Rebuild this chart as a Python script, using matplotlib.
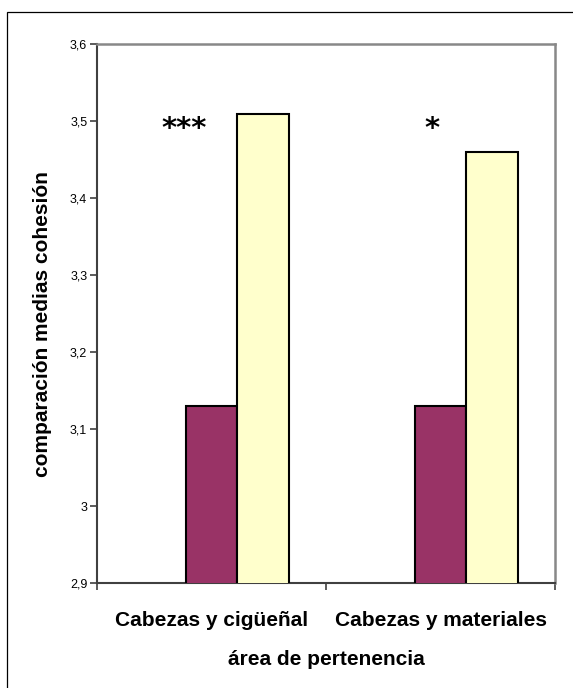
import matplotlib
matplotlib.use("Agg")
import matplotlib.pyplot as plt
from matplotlib.patches import Rectangle
import numpy as np

# datos
areas = ["Cabezas y cigüeñal", "Cabezas y materiales"]
grupo_a = [3.13, 3.13]
grupo_b = [3.51, 3.46]
signif = ["***", "*"]
signif_x = [-0.12, -0.038]
signif_y = [3.48, 3.48]
y_ticks = [2.9, 3.0, 3.1, 3.2, 3.3, 3.4, 3.5, 3.6]
y_labels = ["2,9", "3", "3,1", "3,2", "3,3", "3,4", "3,5", "3,6"]

plt.rcParams["font.family"] = ["Liberation Sans", "DejaVu Sans"]

fig = plt.figure(figsize=(5.73, 6.88), dpi=100)
ax = fig.add_axes([0.1693, 0.1522, 0.7993, 0.7834])

# marco exterior del gráfico
fig.patches.append(Rectangle((7 / 573, -0.2), 2.0, 1.2 - 12 / 688,
                             transform=fig.transFigure, fill=False,
                             edgecolor="black", linewidth=0.9))

x = np.arange(len(areas))
w = 0.225
ax.bar(x, grupo_a, w, bottom=0, color="#993366", edgecolor="black",
       linewidth=1.5, zorder=3)
ax.bar(x + w, grupo_b, w, bottom=0, color="#FFFFCC", edgecolor="black",
       linewidth=1.5, zorder=3)

for sx, sy, s in zip(x + np.array(signif_x), signif_y, signif):
    ax.text(sx, sy, s, ha="center", va="baseline", fontsize=21,
            family="DejaVu Sans", fontweight="bold", color="black")

ax.set_xlim(-0.5, 1.5)
ax.set_ylim(2.9, 3.6)
ax.set_yticks(y_ticks)
ax.set_yticklabels(y_labels, fontsize=9)
ax.tick_params(axis="y", direction="out", length=5, width=1.2, color="#404040", pad=2)

ax.set_xticks(x)
ax.set_xticklabels(areas, fontsize=15, fontweight="bold")
ax.tick_params(axis="x", which="major", length=0, pad=20)
ax.set_xticks([-0.5, 0.5, 1.5], minor=True)
ax.tick_params(axis="x", which="minor", direction="out", length=5, width=1.2, color="#404040")

for side in ["left", "bottom"]:
    ax.spines[side].set_color("#404040")
    ax.spines[side].set_linewidth(1.5)
for side in ["top", "right"]:
    ax.spines[side].set_color("#888888")
    ax.spines[side].set_linewidth(1.8)

ax.set_ylabel("comparación medias cohesión", fontsize=15, fontweight="bold", va="center")
ax.yaxis.set_label_coords(-0.118, 0.481)
ax.set_xlabel("área de pertenencia", fontsize=15, fontweight="bold", labelpad=14)

fig.savefig("out.png", dpi=100)
